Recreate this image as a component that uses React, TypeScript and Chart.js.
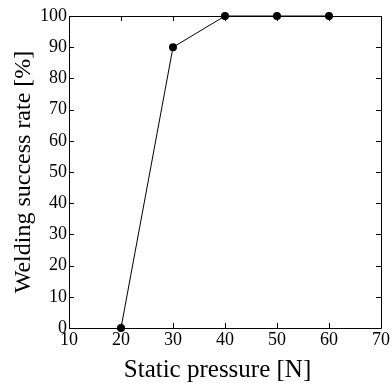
import React, { useEffect, useRef } from "react";
import { Chart, registerables } from "chart.js";

Chart.register(...registerables);

const pressures = [20, 30, 40, 50, 60];
const successRates = [0, 90, 100, 100, 100];
const xTitle = "Static pressure [N]";
const yTitle = "Welding success rate [%]";

const FONT = "'Liberation Serif', 'Times New Roman', serif";

const framePlugin = {
  id: "frameTicks",
  afterDatasetsDraw(chart: any) {
    const { ctx, chartArea } = chart;
    const { left, right, top, bottom } = chartArea;
    const xs = chart.scales.x;
    const ys = chart.scales.y;
    const len = 5;
    ctx.save();
    ctx.strokeStyle = "#000";
    ctx.lineWidth = 1;
    ctx.beginPath();
    ctx.rect(Math.round(left) + 0.5, Math.round(top) + 0.5, Math.round(right - left), Math.round(bottom - top));
    ctx.stroke();
    ctx.beginPath();
    xs.ticks.forEach((t: any) => {
      const px = Math.round(xs.getPixelForValue(t.value)) + 0.5;
      ctx.moveTo(px, bottom);
      ctx.lineTo(px, bottom - len);
      ctx.moveTo(px, top);
      ctx.lineTo(px, top + len);
    });
    ys.ticks.forEach((t: any) => {
      const py = Math.round(ys.getPixelForValue(t.value)) + 0.5;
      ctx.moveTo(left, py);
      ctx.lineTo(left + len, py);
      ctx.moveTo(right, py);
      ctx.lineTo(right - len, py);
    });
    ctx.stroke();
    // x axis title
    ctx.fillStyle = "#000";
    ctx.font = "25px " + FONT;
    ctx.textAlign = "center";
    ctx.textBaseline = "alphabetic";
    ctx.fillText(xTitle, (left + right) / 2 - 7.5, 377);
    ctx.restore();
  },
};

export default function App() {
  const ref = useRef<HTMLCanvasElement>(null);
  useEffect(() => {
    if (!ref.current) return;
    const chart = new Chart(ref.current, {
      type: "line",
      data: {
        datasets: [
          {
            data: pressures.map((p, i) => ({ x: p, y: successRates[i] })),
            borderColor: "#000",
            backgroundColor: "#000",
            borderWidth: 1,
            pointRadius: 4,
            pointBackgroundColor: "#000",
            pointBorderColor: "#000",
            pointBorderWidth: 0,
            tension: 0,
            clip: false as any,
          },
        ],
      },
      options: {
        animation: false,
        responsive: false,
        layout: { padding: { left: 0, right: 11, top: 16, bottom: 0 } },
        plugins: { legend: { display: false }, tooltip: { enabled: false } },
        scales: {
          x: {
            type: "linear",
            min: 10,
            max: 70,
            ticks: { stepSize: 10, color: "#000", font: { family: FONT, size: 18 }, padding: 1, maxRotation: 0 },
            grid: { display: false, drawTicks: false },
            border: { display: false },
            title: { display: false, text: xTitle },
            afterFit: (s: any) => { s.height = 55; },
          },
          y: {
            type: "linear",
            min: 0,
            max: 100,
            ticks: { stepSize: 10, color: "#000", font: { family: FONT, size: 18 }, padding: 2 },
            grid: { display: false, drawTicks: false },
            border: { display: false },
            title: { display: true, text: yTitle, color: "#000", font: { family: FONT, size: 24 }, padding: { top: 9, bottom: 0 } },
            afterFit: (s: any) => { s.width = 69; },
          },
        },
      },
      plugins: [framePlugin],
    });
    return () => chart.destroy();
  }, []);
  return (
    <div style={{ position: "fixed", left: 0, top: 0, width: 392, height: 383, background: "#fff" }}>
      <canvas ref={ref} width={392} height={383} />
    </div>
  );
}
